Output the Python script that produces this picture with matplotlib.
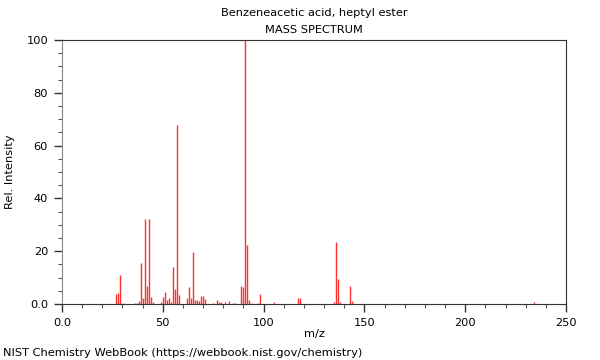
import matplotlib
matplotlib.use("Agg")

import matplotlib.pyplot as plt
from matplotlib.ticker import MultipleLocator, FuncFormatter

plt.rcParams["font.family"] = ["DejaVu Sans"]

# ── data ─────────────────────────────────────────────────
mz = [27, 28, 29, 31, 36, 37, 38, 39, 40, 41, 42, 43, 44, 45,
      49, 50, 51, 52, 53, 54, 55, 56, 57, 58,
      62, 63, 64, 65, 66, 67, 68, 69, 70, 71,
      75, 77, 78, 79, 81, 83, 85, 86,
      89, 90, 91, 92, 93, 94, 97, 98, 105,
      117, 118, 135, 136, 137, 138, 143, 144, 234]
intensity = [3.9, 4.3, 11.0, 0.4, 0.4, 0.5, 1.1, 15.5, 2.2, 32.1, 6.9, 32.2, 2.6, 0.9,
             0.7, 2.5, 4.6, 1.4, 2.4, 0.7, 14.0, 5.7, 67.9, 3.4,
             2.1, 6.6, 2.1, 19.7, 1.5, 1.5, 1.1, 3.2, 3.2, 2.0,
             0.5, 1.5, 0.6, 0.6, 0.6, 1.2, 0.5, 0.5,
             6.8, 6.4, 100.0, 22.3, 1.5, 0.4, 0.4, 3.8, 0.8,
             2.4, 2.4, 0.7, 23.5, 9.5, 0.9, 6.7, 1.1, 0.7]

title = "Benzeneacetic acid, heptyl ester"
subtitle = "MASS SPECTRUM"
footer = "NIST Chemistry WebBook (https://webbook.nist.gov/chemistry)"

fig = plt.figure(figsize=(6, 3.6), dpi=100)
ax = fig.add_axes([62 / 600, 56 / 360, 504 / 600, 264 / 360])

ax.vlines(mz, 0, intensity, colors="#ff3030", linewidth=1.0)

ax.set_xlim(0, 250)
ax.set_ylim(0, 100)

fmt = FuncFormatter(lambda v, _: "0.0" if v == 0 else f"{v:g}")
ax.xaxis.set_major_locator(MultipleLocator(50))
ax.xaxis.set_minor_locator(MultipleLocator(10))
ax.yaxis.set_major_locator(MultipleLocator(20))
ax.yaxis.set_minor_locator(MultipleLocator(5))
ax.xaxis.set_major_formatter(fmt)
ax.yaxis.set_major_formatter(fmt)
ax.tick_params(which="major", length=6, width=1, labelsize=8.2, color="#333333", pad=4)
ax.tick_params(which="minor", length=3, width=0.8, color="#555555")

for side in ("top", "right", "bottom"):
    ax.spines[side].set_color("#333333")
ax.spines["left"].set_color("#888888")

ax.set_xlabel("m/z", fontsize=8.2, labelpad=1)
ax.set_ylabel("Rel. Intensity", fontsize=8.2, labelpad=8)

fig.text(314 / 600, 1 - 13 / 360, title, ha="center", va="center", fontsize=8.2)
fig.text(314 / 600, 1 - 30 / 360, subtitle, ha="center", va="center", fontsize=8.2)
fig.text(3 / 600, 1 - 353 / 360, footer, ha="left", va="center", fontsize=8.2)

fig.savefig("out.png", dpi=100)
